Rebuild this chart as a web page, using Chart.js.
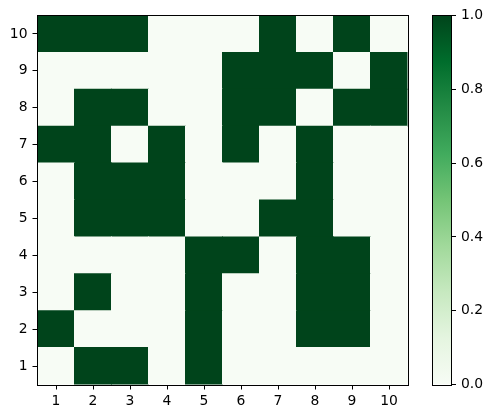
<!DOCTYPE html>
<html>
<head>
<meta charset="utf-8">
<script src="https://cdn.jsdelivr.net/npm/chart.js@4/dist/chart.umd.min.js"></script>
<style>
  html, body { margin: 0; padding: 0; background: #ffffff; }
  #wrap { position: relative; width: 491px; height: 418px; }
  #main { position: absolute; left: 0; top: 0; }
  #cbar { position: absolute; left: 400px; top: 0; }
</style>
</head>
<body>
<div id="wrap">
  <canvas id="main" width="420" height="418"></canvas>
  <canvas id="cbar" width="91" height="418"></canvas>
</div>
<script>
// ---- data ----
const colLabels = ['1', '2', '3', '4', '5', '6', '7', '8', '9', '10'];
const rowValues = [1, 2, 3, 4, 5, 6, 7, 8, 9, 10];
// cell values, row 1 (bottom) first
const row1  = [0, 1, 1, 0, 1, 0, 0, 0, 0, 0];
const row2  = [1, 0, 0, 0, 1, 0, 0, 1, 1, 0];
const row3  = [0, 1, 0, 0, 1, 0, 0, 1, 1, 0];
const row4  = [0, 0, 0, 0, 1, 1, 0, 1, 1, 0];
const row5  = [0, 1, 1, 1, 0, 0, 1, 1, 0, 0];
const row6  = [0, 1, 1, 1, 0, 0, 0, 1, 0, 0];
const row7  = [1, 1, 0, 1, 0, 1, 0, 1, 0, 0];
const row8  = [0, 1, 1, 0, 0, 1, 1, 0, 1, 1];
const row9  = [0, 0, 0, 0, 0, 1, 1, 1, 0, 1];
const row10 = [1, 1, 1, 0, 0, 0, 1, 0, 1, 0];
const cells = [row1, row2, row3, row4, row5, row6, row7, row8, row9, row10];
const colorbarTicks = [0.0, 0.2, 0.4, 0.6, 0.8, 1.0];

// ---- colour map (matplotlib "Greens") ----
const greens = ['#f7fcf5', '#e5f5e0', '#c7e9c0', '#a1d99b', '#74c476', '#41ab5d', '#238b45', '#006d2c', '#00441b'];
function hexToRgb(h) { return [parseInt(h.substr(1,2),16), parseInt(h.substr(3,2),16), parseInt(h.substr(5,2),16)]; }
function cmap(v) {
  const t = Math.max(0, Math.min(1, v)) * (greens.length - 1);
  const i = Math.min(Math.floor(t), greens.length - 2);
  const f = t - i;
  const a = hexToRgb(greens[i]), b = hexToRgb(greens[i + 1]);
  const c = a.map((x, k) => Math.round(x + (b[k] - x) * f));
  return 'rgb(' + c[0] + ',' + c[1] + ',' + c[2] + ')';
}

const font = { family: 'DejaVu Sans', size: 13.9 };
const frame = {
  id: 'frame',
  afterDraw(chart) {
    const { ctx, chartArea: a } = chart;
    ctx.save();
    ctx.strokeStyle = '#000';
    ctx.lineWidth = 1;
    ctx.strokeRect(Math.round(a.left) - 0.5, Math.round(a.top) - 0.5,
                   Math.round(a.right) - Math.round(a.left) + 1, Math.round(a.bottom) - Math.round(a.top) + 1);
    ctx.restore();
  }
};

// ---- heat map: one floating-bar dataset per row ----
const datasets = rowValues.map((r, ri) => ({
  label: 'row ' + r,
  data: colLabels.map(() => [r - 0.5, r + 0.5]),
  backgroundColor: cells[ri].map(v => cmap(v)),
  borderWidth: 0,
  borderSkipped: false,
  grouped: false,
  barPercentage: 1.0,
  categoryPercentage: 1.0,
  inflateAmount: 0.5
}));

new Chart(document.getElementById('main'), {
  type: 'bar',
  data: { labels: colLabels, datasets },
  options: {
    responsive: false,
    animation: false,
    events: [],
    layout: { padding: { left: 0, top: 15.5, right: 12.5, bottom: 0 } },
    plugins: { legend: { display: false }, tooltip: { enabled: false } },
    scales: {
      x: {
        type: 'category',
        offset: true,
        grid: { offset: false, drawOnChartArea: false, drawTicks: true, tickLength: 5, color: '#000', lineWidth: 1 },
        border: { display: false },
        ticks: { color: '#000', font, padding: 4, maxRotation: 0, autoSkip: false },
        afterFit(s) { s.height = 33.5; }
      },
      y: {
        type: 'linear',
        min: 0.5, max: 10.5,
        afterBuildTicks(s) { s.ticks = rowValues.map(v => ({ value: v })); },
        grid: { drawOnChartArea: false, drawTicks: true, tickLength: 5, color: '#000', lineWidth: 1 },
        border: { display: false },
        ticks: { color: '#000', font, padding: 5, callback: v => String(v) },
        afterFit(s) { s.width = 37.5; }
      }
    }
  },
  plugins: [frame]
});

// ---- colour bar ----
new Chart(document.getElementById('cbar'), {
  type: 'bar',
  data: {
    labels: ['cb'],
    datasets: [{
      data: [[0, 1]],
      borderWidth: 0,
      borderSkipped: false,
      barPercentage: 1.0,
      categoryPercentage: 1.0,
      backgroundColor(ctx) {
        const a = ctx.chart.chartArea;
        if (!a) return greens[0];
        const g = ctx.chart.ctx.createLinearGradient(0, a.bottom, 0, a.top);
        greens.forEach((c, i) => g.addColorStop(i / (greens.length - 1), c));
        return g;
      }
    }]
  },
  options: {
    responsive: false,
    animation: false,
    events: [],
    layout: { padding: { left: 32.5, top: 15.5, right: 0, bottom: 33.5 } },
    plugins: { legend: { display: false }, tooltip: { enabled: false } },
    scales: {
      x: { display: false },
      y: {
        position: 'right',
        min: 0, max: 1,
        afterBuildTicks(s) { s.ticks = colorbarTicks.map(v => ({ value: v })); },
        grid: { drawOnChartArea: false, drawTicks: true, tickLength: 5, color: '#000', lineWidth: 1 },
        border: { display: false },
        ticks: { color: '#000', font, padding: 5, callback: v => Number(v).toFixed(1) },
        afterFit(s) { s.width = 40; }
      }
    }
  },
  plugins: [frame]
});
</script>
</body>
</html>
